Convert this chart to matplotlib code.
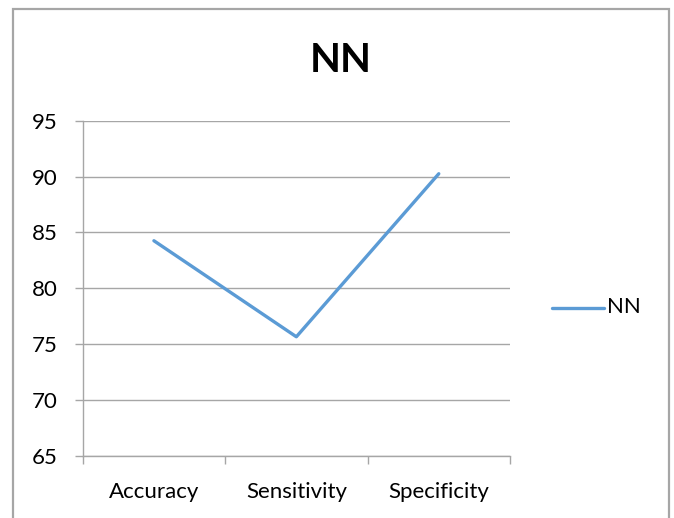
import matplotlib
matplotlib.use("Agg")
import matplotlib.pyplot as plt
from matplotlib.patches import Rectangle
from matplotlib.lines import Line2D

categories = ["Accuracy", "Sensitivity", "Specificity"]
nn_values = [84.25, 75.65, 90.25]
y_ticks = [65, 70, 75, 80, 85, 90, 95]
series_name = "NN"
title = "NN"

W, H = 674, 518
plt.rcParams['font.family'] = ['Lato', 'DejaVu Sans']
fig = plt.figure(figsize=(W / 100, H / 100), dpi=100)
fig.patch.set_facecolor("white")

grey = "#A6A6A6"
blue = "#5B9BD5"
label_size = 16

# chart-area outline
fig.add_artist(Rectangle((13 / W, -0.02), (669 - 13) / W, 1.02 - 9 / H,
                         transform=fig.transFigure, fill=False,
                         edgecolor=grey, linewidth=1.6))

left, right, top, bottom = 82.7, 510, 120.7, 455.7
ax = fig.add_axes([left / W, 1 - bottom / H, (right - left) / W, (bottom - top) / H])

x = list(range(len(categories)))
ax.plot(x, nn_values, color=blue, linewidth=2.4, solid_capstyle="round",
        label=series_name)

ax.set_xlim(-0.5, len(categories) - 0.5)
ax.set_ylim(y_ticks[0], y_ticks[-1])
ax.set_yticks(y_ticks)
ax.set_xticks(x)
ax.set_xticklabels(categories)
ax.set_xticks([i - 0.5 for i in range(len(categories) + 1)], minor=True)

ax.tick_params(axis="x", which="major", length=0, pad=19, labelsize=label_size)
ax.tick_params(axis="x", which="minor", length=6, direction="out", color=grey, width=1)
ax.tick_params(axis="y", length=6, direction="out", color=grey, width=1,
               pad=12, labelsize=label_size)

ax.grid(axis="y", color=grey, linewidth=1)
ax.set_axisbelow(True)
for s in ["top", "right"]:
    ax.spines[s].set_visible(False)
for s in ["left", "bottom"]:
    ax.spines[s].set_color(grey)
    ax.spines[s].set_linewidth(1)

fig.text(341 / W, 1 - 61 / H, title, ha="center", va="center",
         fontsize=29, fontweight="bold")

# legend
fig.add_artist(Line2D([552 / W, 604 / W], [1 - 308 / H, 1 - 308 / H],
                      transform=fig.transFigure, color=blue, linewidth=2.4,
                      solid_capstyle="round"))
fig.text(607 / W, 1 - 307 / H, series_name, ha="left", va="center", fontsize=label_size)

fig.savefig("out.png", dpi=100)
